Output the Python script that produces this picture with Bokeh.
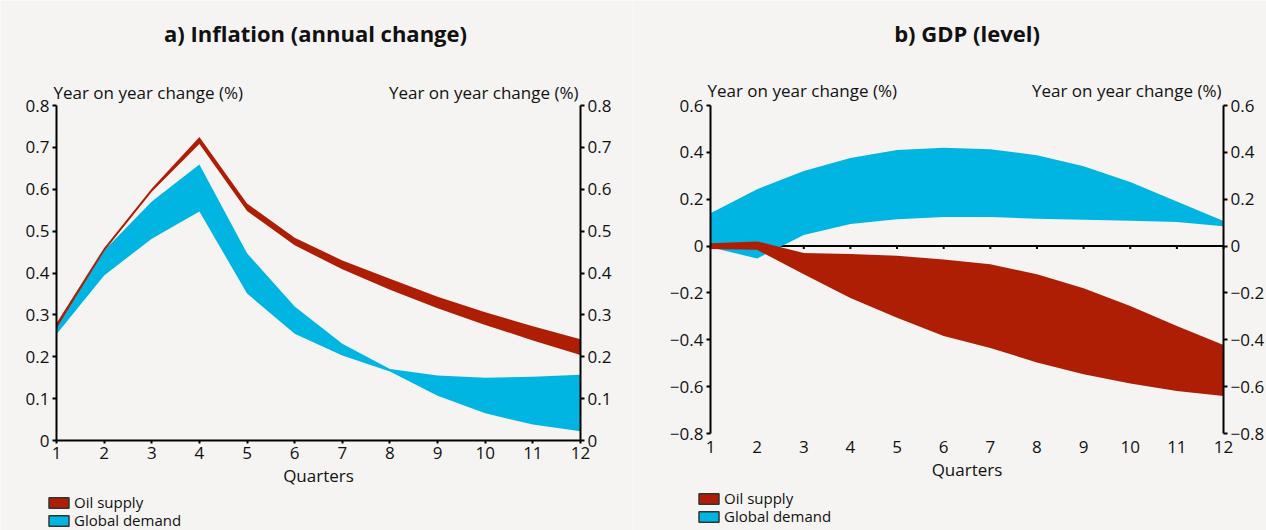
from bokeh.plotting import figure
from bokeh.models import Range1d, LinearAxis, FixedTicker, Label, Legend, LegendItem
from bokeh.layouts import row
from bokeh.embed import file_html
from bokeh.resources import INLINE

# ---------------- data ----------------
quarters = [1, 2, 3, 4, 5, 6, 7, 8, 9, 10, 11, 12]

# a) Inflation (annual change), year on year change (%)
infl_oil_upper = [0.280, 0.460, 0.602, 0.725, 0.566, 0.484, 0.430, 0.386, 0.343, 0.306, 0.273, 0.242]
infl_oil_lower = [0.268, 0.452, 0.594, 0.708, 0.548, 0.466, 0.409, 0.360, 0.316, 0.276, 0.239, 0.204]
infl_dem_upper = [0.276, 0.454, 0.571, 0.659, 0.447, 0.320, 0.231, 0.171, 0.155, 0.150, 0.152, 0.157]
infl_dem_lower = [0.254, 0.394, 0.482, 0.547, 0.351, 0.255, 0.203, 0.165, 0.107, 0.065, 0.038, 0.022]

# b) GDP (level)
gdp_dem_upper = [0.140, 0.243, 0.320, 0.376, 0.410, 0.420, 0.413, 0.388, 0.341, 0.273, 0.190, 0.107]
gdp_dem_lower = [-0.005, -0.053, 0.047, 0.094, 0.115, 0.124, 0.124, 0.117, 0.112, 0.108, 0.103, 0.085]
gdp_oil_upper = [0.012, 0.020, -0.030, -0.034, -0.041, -0.057, -0.078, -0.120, -0.180, -0.256, -0.341, -0.422]
gdp_oil_lower = [-0.012, -0.016, -0.120, -0.222, -0.306, -0.384, -0.435, -0.497, -0.547, -0.587, -0.619, -0.640]

infl_ticks = [0, 0.1, 0.2, 0.3, 0.4, 0.5, 0.6, 0.7, 0.8]
infl_tick_labels = ["0", "0.1", "0.2", "0.3", "0.4", "0.5", "0.6", "0.7", "0.8"]
gdp_ticks = [-0.8, -0.6, -0.4, -0.2, 0, 0.2, 0.4, 0.6]
gdp_tick_labels = ["\u22120.8", "\u22120.6", "\u22120.4", "\u22120.2", "0", "0.2", "0.4", "0.6"]

series_names = ["Oil supply", "Global demand"]
titles = ["a) Inflation (annual change)", "b) GDP (level)"]
y_axis_text = "Year on year change (%)"
x_axis_text = "Quarters"

# ---------------- style ----------------
RED = "#AE1E05"
BLUE = "#00B5E1"
BG = "#F5F4F2"
INK = "#111111"
FONT = "Open Sans"
FS = "17px"
W, H = 633, 530
NAN = float("nan")


def style_axis(ax):
    ax.axis_line_width = 2
    ax.axis_line_color = "black"
    ax.major_tick_line_width = 2
    ax.major_tick_line_color = "black"
    ax.minor_tick_line_color = None
    ax.major_label_text_font = FONT
    ax.major_label_text_font_size = FS
    ax.major_label_text_color = INK
    ax.axis_label_text_font = FONT
    ax.axis_label_text_font_size = FS
    ax.axis_label_text_font_style = "normal"
    ax.axis_label_text_color = INK


def base_fig(ticks, labels, px_left, px_right, px_top, px_bottom):
    """The frame fills the whole figure; the plot area (quarters x ticks) sits
    at the given pixel edges and all axes are fixed at the plot-area edges."""
    lo, hi = ticks[0], ticks[-1]
    q0, q1 = quarters[0], quarters[-1]
    ppx = (px_right - px_left) / (q1 - q0)
    ppy = (px_bottom - px_top) / (hi - lo)
    xr = Range1d(q0 - px_left / ppx, q1 + (W - px_right) / ppx)
    yr = Range1d(lo - (H - px_bottom) / ppy, hi + px_top / ppy)
    p = figure(width=W, height=H, output_backend="svg", toolbar_location=None,
               x_range=xr, y_range=yr, x_axis_type=None, y_axis_type=None,
               min_border=0, background_fill_color=BG, border_fill_color=BG,
               outline_line_color=None)
    p.grid.visible = False
    for side, loc in (("left", q0), ("right", q1)):
        ax = LinearAxis(ticker=FixedTicker(ticks=ticks), bounds=(lo, hi), fixed_location=loc,
                        major_label_overrides=dict(zip(ticks, labels)))
        style_axis(ax)
        ax.major_tick_in = 0
        ax.major_tick_out = 4
        ax.major_label_standoff = 3
        p.add_layout(ax, side)
    return p, ppy


def add_texts(p, title, hi, title_dy, unit_dy, title_dx):
    mid = (quarters[0] + quarters[-1]) / 2
    p.add_layout(Label(x=mid, y=hi, x_offset=title_dx, y_offset=title_dy, text=title,
                       text_align="center", text_baseline="middle", text_font=FONT,
                       text_font_size="22px", text_font_style="bold", text_color=INK))
    p.add_layout(Label(x=quarters[0], y=hi, x_offset=-3, y_offset=unit_dy, text=y_axis_text,
                       text_align="left", text_baseline="middle", text_font=FONT,
                       text_font_size=FS, text_color=INK))
    p.add_layout(Label(x=quarters[-1], y=hi, x_offset=-2, y_offset=unit_dy, text=y_axis_text,
                       text_align="right", text_baseline="middle", text_font=FONT,
                       text_font_size=FS, text_color=INK))


def add_legend(p, x_px, bottoms):
    colors = [RED, BLUE]
    for name, col, yb in zip(series_names, colors, bottoms):
        # legend key only: a swatch with a dark outline (no visible mark)
        r = p.quad(left=[NAN], right=[NAN], top=[NAN], bottom=[NAN], fill_color=col,
                   line_color="#333333", line_width=1.5)
        leg = Legend(items=[LegendItem(label=name, renderers=[r])],
                     location=(x_px, yb), padding=0, margin=0, spacing=0,
                     glyph_width=25, glyph_height=13, label_height=13, label_standoff=3,
                     label_text_font=FONT, label_text_font_size="15px", label_text_color=INK,
                     background_fill_alpha=0, border_line_alpha=0)
        p.add_layout(leg, "center")


# ---------- panel a ----------
pa, _ = base_fig(infl_ticks, infl_tick_labels, 56, 580, 105, 440)
xa = LinearAxis(ticker=FixedTicker(ticks=quarters), bounds=(quarters[0], quarters[-1]),
                fixed_location=infl_ticks[0], axis_label=x_axis_text)
style_axis(xa)
xa.major_tick_in = 0
xa.major_tick_out = 3
xa.major_label_standoff = 3
xa.axis_label_standoff = 2
pa.add_layout(xa, "below")
pa.varea(x=quarters, y1=infl_dem_lower, y2=infl_dem_upper, fill_color=BLUE)
pa.varea(x=quarters, y1=infl_oil_lower, y2=infl_oil_upper, fill_color=RED)
add_texts(pa, titles[0], infl_ticks[-1], 73, 13, -3)
add_legend(pa, 46, [18, 0])

# ---------- panel b ----------
pb, ppu_b = base_fig(gdp_ticks, gdp_tick_labels, 77, 590, 105, 433)
xb = LinearAxis(ticker=FixedTicker(ticks=quarters), bounds=(quarters[0], quarters[-1]),
                fixed_location=gdp_ticks[0], axis_label=x_axis_text)
style_axis(xb)
xb.axis_line_color = None
xb.major_tick_line_color = None
xb.major_tick_in = 0
xb.major_tick_out = 0
xb.major_label_standoff = 7
xb.axis_label_standoff = 2
pb.add_layout(xb, "below")
# zero line with its quarter ticks, drawn under the bands
pb.segment(x0=[quarters[0]], y0=[0], x1=[quarters[-1]], y1=[0], line_color="black", line_width=2)
tick_len = 3 / ppu_b
pb.segment(x0=quarters, y0=[0] * len(quarters), x1=quarters, y1=[-tick_len] * len(quarters),
           line_color="black", line_width=2)
pb.varea(x=quarters, y1=gdp_dem_lower, y2=gdp_dem_upper, fill_color=BLUE)
pb.varea(x=quarters, y1=gdp_oil_lower, y2=gdp_oil_upper, fill_color=RED)
add_texts(pb, titles[1], gdp_ticks[-1], 73, 15, 0)
add_legend(pb, 63, [22, 4])

layout = row(pa, pb)
open("out.html", "w").write(file_html(layout, INLINE))
